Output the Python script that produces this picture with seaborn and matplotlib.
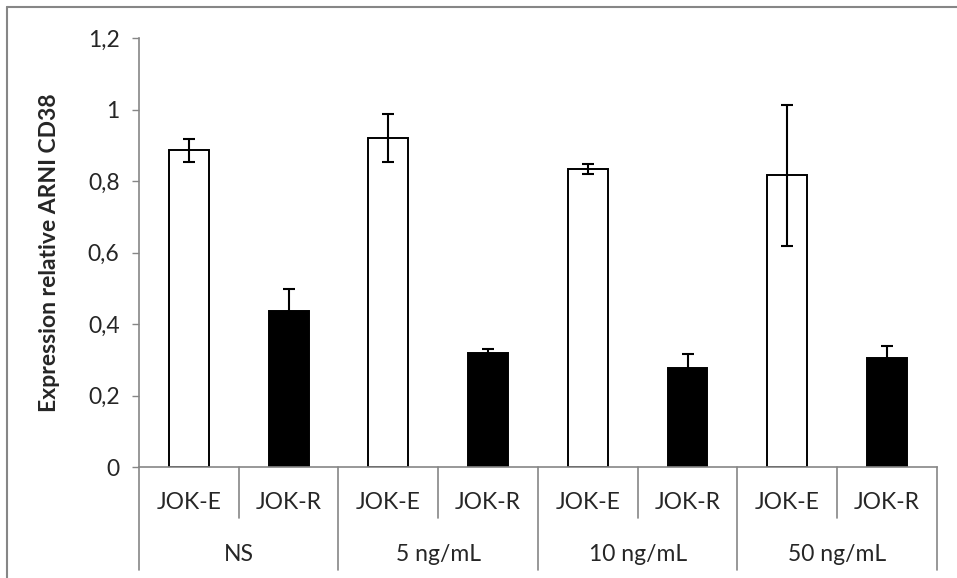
import pandas as pd
import seaborn as sns
import matplotlib.pyplot as plt
from matplotlib.lines import Line2D
from matplotlib.ticker import FuncFormatter
import matplotlib.transforms as mtransforms

groups = ["NS", "5 ng/mL", "10 ng/mL", "50 ng/mL"]
lines = ["JOK-E", "JOK-R"]
values = [0.886, 0.437, 0.921, 0.320, 0.834, 0.276, 0.816, 0.306]
errors = [0.033, 0.061, 0.068, 0.010, 0.013, 0.040, 0.198, 0.034]

rows = []
for g in groups:
    for l in lines:
        rows.append({"group": g, "line": l, "key": g + " " + l})
df = pd.DataFrame(rows)
df["value"] = values
df["err"] = errors

sns.set_style("white")
plt.rcParams["font.family"] = ["Lato", "DejaVu Sans"]

grey = "#868686"
fig = plt.figure(figsize=(9.57, 5.78), dpi=100)
ax = fig.add_axes([0.1452, 0.192, 0.8338, 0.742])

sns.barplot(data=df, x="key", y="value", hue="line", palette={"JOK-E": "white", "JOK-R": "black"},
            edgecolor="black", linewidth=1.4, dodge=False, width=0.4, legend=False, ax=ax)
pos = list(range(len(df)))
ax.errorbar(pos, df["value"], yerr=df["err"], fmt="none", ecolor="black",
            elinewidth=1.5, capsize=4.5, capthick=1.5)

ax.set_xlim(-0.5, len(df) - 0.5)
ax.set_ylim(0, 1.2)
ax.set_yticks([0, 0.2, 0.4, 0.6, 0.8, 1.0, 1.2])
ax.yaxis.set_major_formatter(FuncFormatter(lambda v, p: ("%g" % round(v, 1)).replace(".", ",")))
ax.tick_params(axis="y", length=5, width=1, color=grey, left=True, pad=9, labelsize=16.5)
ax.set_xticks(pos)
ax.set_xticklabels(df["line"])
ax.tick_params(axis="x", length=0, pad=18, labelsize=16.5)
ax.set_xlabel("")
ax.set_ylabel("Expression relative ARNI CD38", fontsize=16.5, fontweight="bold", labelpad=20)

for s in ["top", "right"]:
    ax.spines[s].set_visible(False)
for s in ["left", "bottom"]:
    ax.spines[s].set_color(grey)
    ax.spines[s].set_linewidth(1.2)

trans = mtransforms.blended_transform_factory(ax.transData, ax.transAxes)
for i in range(len(df) + 1):
    x = i - 0.5
    depth = -0.240 if i % 2 == 0 else -0.119
    ax.plot([x, x], [0, depth], color=grey, lw=1.2, transform=trans, clip_on=False)
for j, g in enumerate(groups):
    ax.text(2 * j + 0.5, -0.205, g, transform=trans, ha="center", va="center", fontsize=16.5)

fig.add_artist(Line2D([7 / 957, 1], [1 - 7 / 578, 1 - 7 / 578], color=grey, lw=1.5))
fig.add_artist(Line2D([7 / 957, 7 / 957], [0, 1 - 7 / 578], color=grey, lw=1.5))

fig.savefig("out.png", dpi=100)
